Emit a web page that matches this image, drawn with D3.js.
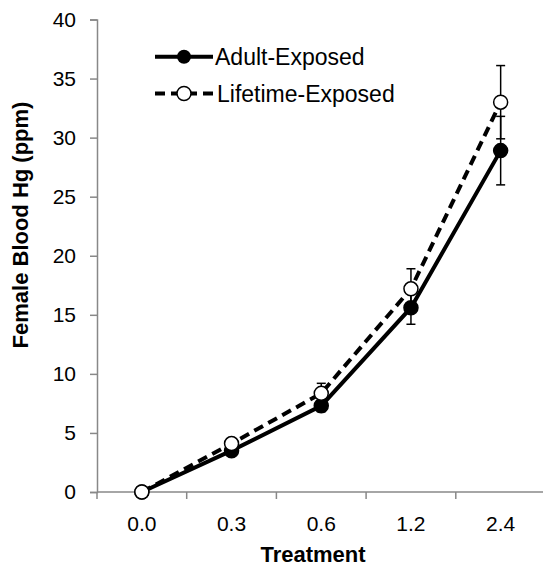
<!DOCTYPE html>
<html>
<head>
<meta charset="utf-8">
<script src="https://cdn.jsdelivr.net/npm/d3@7"></script>
<style>
  body { margin: 0; background: #fff; }
  text { font-family: "Liberation Sans", Arial, sans-serif; }
</style>
</head>
<body>
<svg id="svg1" width="543" height="568"></svg>
<script>
// treatment groups and blood Hg values (ppm)
var treatments = ["0.0", "0.3", "0.6", "1.2", "2.4"];
var adultVals = [0, 3.5, 7.3, 15.6, 28.9];
var adultErr = [0.1, 0.3, 0.5, 1.4, 2.9];
var lifeVals = [0, 4.1, 8.35, 17.2, 33.0];
var lifeErr = [0.1, 0.3, 0.85, 1.7, 3.1];
var yTicks = [0, 5, 10, 15, 20, 25, 30, 35, 40];

var svg = d3.select("#svg1");

var x = d3.scaleBand().domain(treatments).range([97, 545.5]);
var y = d3.scaleLinear().domain([0, 40]).range([492, 19.5]);

var axisColor = "#888";

// y axis
var yAxis = svg.append("g")
    .attr("transform", "translate(97,0)")
    .call(d3.axisLeft(y).tickValues(yTicks).tickSize(7).tickPadding(14));
yAxis.select(".domain").attr("stroke", axisColor).attr("stroke-width", 1.5);
yAxis.selectAll(".tick line").attr("stroke", axisColor).attr("stroke-width", 1.5);
yAxis.selectAll(".tick text")
    .attr("font-size", 21)
    .attr("fill", "#000")
    .style("font-family", "Liberation Sans, Arial, sans-serif");

// x axis, ticks between the categories
var xg = svg.append("g").attr("transform", "translate(0,492)");
xg.append("line")
    .attr("x1", 97).attr("x2", 545.5)
    .attr("stroke", axisColor).attr("stroke-width", 1.5);
xg.selectAll("line.tk")
    .data(treatments)
    .enter().append("line")
    .attr("class", "tk")
    .attr("x1", function(d) { return x(d); })
    .attr("x2", function(d) { return x(d); })
    .attr("y1", 0).attr("y2", 7)
    .attr("stroke", axisColor).attr("stroke-width", 1.5);
xg.selectAll("text")
    .data(treatments)
    .enter().append("text")
    .attr("x", function(d) { return x(d) + x.bandwidth() / 2; })
    .attr("y", 39)
    .attr("text-anchor", "middle")
    .attr("font-size", 21)
    .text(function(d) { return d; });

// axis titles
svg.append("text")
    .attr("transform", "translate(28,225) rotate(-90)")
    .attr("text-anchor", "middle")
    .attr("font-size", 22)
    .attr("font-weight", "bold")
    .text("Female Blood Hg (ppm)");

svg.append("text")
    .attr("x", 313).attr("y", 562)
    .attr("text-anchor", "middle")
    .attr("font-size", 22)
    .attr("font-weight", "bold")
    .text("Treatment");

var cx = function(d, i) { return x(treatments[i]) + x.bandwidth() / 2; };

function drawSeries(vals, errs, dash) {
    var pts = vals.map(function(v, i) { return { v: v, e: errs[i], t: treatments[i] }; });
    var line = d3.line()
        .x(function(d) { return x(d.t) + x.bandwidth() / 2; })
        .y(function(d) { return y(d.v); });

    svg.append("path")
        .datum(pts)
        .attr("d", line)
        .attr("fill", "none")
        .attr("stroke", "#000")
        .attr("stroke-width", 4)
        .attr("stroke-dasharray", dash);

    var eb = svg.append("g").selectAll("g").data(pts).enter().append("g");
    eb.append("line")
        .attr("x1", cx).attr("x2", cx)
        .attr("y1", function(d) { return y(d.v - d.e); })
        .attr("y2", function(d) { return y(d.v + d.e); })
        .attr("stroke", "#000").attr("stroke-width", 1.5);
    [-1, 1].forEach(function(s) {
        eb.append("line")
            .attr("x1", function(d, i) { return cx(d, i) - 4.5; })
            .attr("x2", function(d, i) { return cx(d, i) + 4.5; })
            .attr("y1", function(d) { return y(d.v + s * d.e); })
            .attr("y2", function(d) { return y(d.v + s * d.e); })
            .attr("stroke", "#000").attr("stroke-width", 1.5);
    });
    return pts;
}

var aPts = drawSeries(adultVals, adultErr, null);
var lPts = drawSeries(lifeVals, lifeErr, "10,6");

svg.append("g").selectAll("circle").data(aPts).enter().append("circle")
    .attr("cx", cx).attr("cy", function(d) { return y(d.v); })
    .attr("r", 7).attr("fill", "#000").attr("stroke", "#000").attr("stroke-width", 1.5);
svg.append("g").selectAll("circle").data(lPts).enter().append("circle")
    .attr("cx", cx).attr("cy", function(d) { return y(d.v); })
    .attr("r", 7).attr("fill", "#fff").attr("stroke", "#000").attr("stroke-width", 1.5);

// legend
var legend = svg.append("g");
legend.append("line")
    .attr("x1", 155).attr("x2", 213).attr("y1", 56.7).attr("y2", 56.7)
    .attr("stroke", "#000").attr("stroke-width", 4);
legend.append("circle")
    .attr("cx", 184).attr("cy", 56.7).attr("r", 7).attr("fill", "#000");
legend.append("text")
    .attr("x", 215).attr("y", 64.5).attr("font-size", 23).text("Adult-Exposed");

legend.append("line")
    .attr("x1", 155).attr("x2", 213).attr("y1", 93.5).attr("y2", 93.5)
    .attr("stroke", "#000").attr("stroke-width", 4).attr("stroke-dasharray", "10,6");
legend.append("circle")
    .attr("cx", 184).attr("cy", 93.5).attr("r", 7)
    .attr("fill", "#fff").attr("stroke", "#000").attr("stroke-width", 1.5);
legend.append("text")
    .attr("x", 217).attr("y", 101.5).attr("font-size", 23).text("Lifetime-Exposed");
</script>
</body>
</html>
